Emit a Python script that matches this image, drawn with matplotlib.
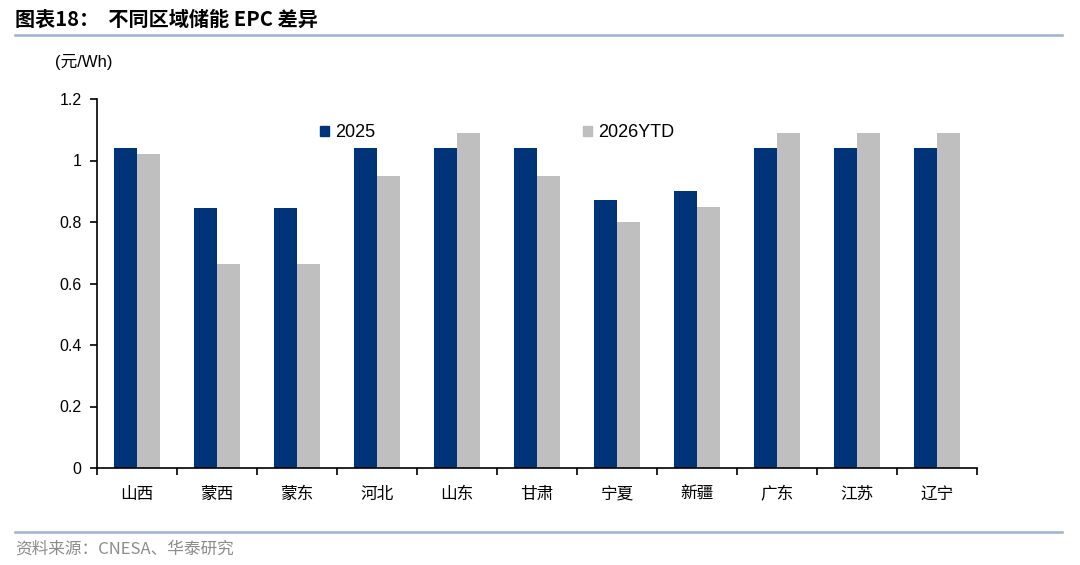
import matplotlib.pyplot as plt
from matplotlib.patches import Rectangle
from matplotlib.lines import Line2D
import numpy as np

plt.rcParams['font.family'] = ['Liberation Sans', 'Noto Sans CJK SC', 'DejaVu Sans']

# data
regions = ['山西', '蒙西', '蒙东', '河北', '山东', '甘肃', '宁夏', '新疆', '广东', '江苏', '辽宁']
epc_2025 = [1.04, 0.845, 0.845, 1.04, 1.04, 1.04, 0.87, 0.90, 1.04, 1.04, 1.04]
epc_2026ytd = [1.02, 0.665, 0.665, 0.95, 1.09, 0.95, 0.80, 0.85, 1.09, 1.09, 1.09]
yticks = [0, 0.2, 0.4, 0.6, 0.8, 1, 1.2]
ytick_labels = ['0', '0.2', '0.4', '0.6', '0.8', '1', '1.2']

blue = '#003478'
grey = '#BFBFBF'
rule = '#9DB3CE'

fig = plt.figure(figsize=(10.8, 5.65), dpi=100)
ax = fig.add_axes([97 / 1080, 1 - 468 / 565, 880 / 1080, 369 / 565])

x = np.arange(len(regions))
w = 0.29
ax.bar(x - w / 2, epc_2025, w, color=blue, label='2025')
ax.bar(x + w / 2, epc_2026ytd, w, color=grey, label='2026YTD')

ax.set_xlim(-0.5, len(regions) - 0.5)
ax.set_ylim(0, 1.2)
ax.set_yticks(yticks)
ax.set_yticklabels(ytick_labels, fontsize=11.5)
ax.set_xticks(x)
ax.set_xticklabels(regions, fontsize=12, family=['Noto Sans CJK SC'])
ax.set_xticks(np.arange(-0.5, len(regions)), minor=True)
ax.tick_params(axis='x', which='major', length=0, pad=13)
ax.tick_params(axis='x', which='minor', length=5, width=1.2, direction='out')
ax.tick_params(axis='y', length=5, width=1.2, direction='out', pad=6)
for s in ['top', 'right']:
    ax.spines[s].set_visible(False)
for s in ['left', 'bottom']:
    ax.spines[s].set_linewidth(1.2)

# legend drawn in two wide columns
handles = [Rectangle((0, 0), 1, 1, color=blue), Rectangle((0, 0), 1, 1, color=grey)]
ax.legend(handles, ['2025', '2026YTD'], ncol=2, frameon=False, fontsize=13,
          loc='upper left', bbox_to_anchor=(0.235, 0.975), handlelength=0.5,
          handleheight=0.5, handletextpad=0.35, columnspacing=11.5)

fig.text(55 / 1080, 1 - 62 / 565, '(元/Wh)', fontsize=12, va='center',
         family=['Liberation Sans', 'Noto Sans CJK SC'])

# title and rules
fig.text(15 / 1080, 1 - 19 / 565, '图表18：  不同区域储能 EPC 差异', fontsize=14.5,
         fontweight='bold', va='center', family=['Noto Sans CJK SC'])
fig.add_artist(Line2D([15 / 1080, 1062 / 1080], [1 - 35 / 565, 1 - 35 / 565],
                      color=rule, lw=1.8))
fig.add_artist(Line2D([15 / 1080, 1062 / 1080], [1 - 532 / 565, 1 - 532 / 565],
                      color=rule, lw=1.8))
fig.text(15 / 1080, 1 - 549 / 565, '资料来源：CNESA、华泰研究', fontsize=12,
         color='#8C8C8C', va='center', family=['Noto Sans CJK SC'])

plt.savefig('out.png', dpi=100)
